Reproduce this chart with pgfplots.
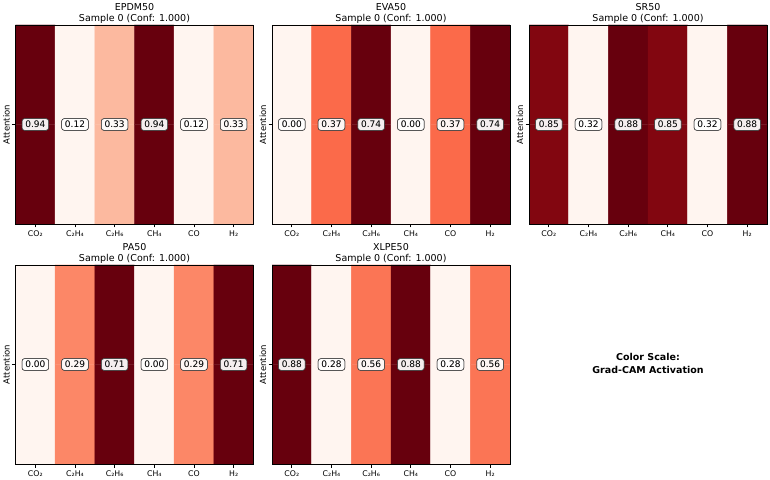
\documentclass[border=0pt]{standalone}
\usepackage{pgfplots}
\pgfplotsset{compat=1.18}
\usepackage{pgfplotstable}
\usepackage{fontspec}
\setmainfont{DejaVu Sans}

\pgfplotstableread{
x y c
0 0 0.94
1 0 0.12
2 0 0.33
3 0 0.94
4 0 0.12
5 0 0.33
0 1 0.94
1 1 0.12
2 1 0.33
3 1 0.94
4 1 0.12
5 1 0.33
}\epdm
\pgfplotstableread{
x y c
0 0 0.00
1 0 0.37
2 0 0.74
3 0 0.00
4 0 0.37
5 0 0.74
0 1 0.00
1 1 0.37
2 1 0.74
3 1 0.00
4 1 0.37
5 1 0.74
}\eva
\pgfplotstableread{
x y c
0 0 0.85
1 0 0.32
2 0 0.88
3 0 0.85
4 0 0.32
5 0 0.88
0 1 0.85
1 1 0.32
2 1 0.88
3 1 0.85
4 1 0.32
5 1 0.88
}\sr
\pgfplotstableread{
x y c
0 0 0.00
1 0 0.29
2 0 0.71
3 0 0.00
4 0 0.29
5 0 0.71
0 1 0.00
1 1 0.29
2 1 0.71
3 1 0.00
4 1 0.29
5 1 0.71
}\pa
\pgfplotstableread{
x y c
0 0 0.88
1 0 0.28
2 0 0.56
3 0 0.88
4 0 0.28
5 0 0.56
0 1 0.88
1 1 0.28
2 1 0.56
3 1 0.88
4 1 0.28
5 1 0.56
}\xlpe

\pgfplotsset{
  hm/.style={
    scale only axis,
    anchor=north west,
    width=238pt, height=199pt,
    xmin=-0.5, xmax=5.5, ymin=-0.5, ymax=1.5,
    enlargelimits=false,
    xtick={0,...,5},
    xticklabels={CO₂,C₂H₄,C₂H₆,CH₄,CO,H₂},
    ytick={0.5}, yticklabels={},
    xtick pos=bottom, ytick pos=left,
    tick align=outside,
    major tick length=3.5pt,
    tick style={black, line width=0.7pt},
    axis line style={line width=0.8pt},
    ticklabel style={font=\fontsize{7.8}{9}\selectfont},
    ylabel={Attention},
    every axis y label/.style={at={(axis description cs:0,0.5)}, xshift=-9pt, rotate=90, anchor=center, font=\fontsize{8.5}{10}\selectfont},
    title style={align=center, font=\fontsize{9.5}{11}\selectfont, yshift=-8pt},
    colormap={reds}{rgb255=(255,245,240) rgb255=(254,224,210) rgb255=(252,187,161) rgb255=(252,146,114) rgb255=(251,106,74) rgb255=(239,59,44) rgb255=(203,24,29) rgb255=(165,15,21) rgb255=(103,0,13)},
    axis on top,
  },
  cells/.style={matrix plot*, mesh/cols=6, mesh/rows=2, point meta=explicit},
  vals/.style={only marks, mark=none, point meta=explicit,
    nodes near coords={\pgfmathprintnumber[fixed,fixed zerofill,precision=2,assume math mode=true]{\pgfplotspointmeta}},
    every node near coord/.style={anchor=center, draw=black!80, line width=0.5pt, rounded corners=2.5pt, fill=white, fill opacity=0.75, text opacity=1, inner xsep=3.3pt, inner ysep=2.4pt, font=\fontsize{9}{10}\selectfont}},
}

\begin{document}
\begin{tikzpicture}
\path[use as bounding box] (0pt,0pt) rectangle (770pt,479pt);

\begin{axis}[hm, at={(15.5pt,454pt)}, title={EPDM50\\Sample 0 (Conf: 1.000)}]
\addplot[cells] table[x=x, y=y, meta=c] {\epdm};
\addplot[vals] table[x=x, y expr=0.5, meta=c] {\epdm};
\end{axis}

\begin{axis}[hm, at={(272pt,454pt)}, title={EVA50\\Sample 0 (Conf: 1.000)}]
\addplot[cells] table[x=x, y=y, meta=c] {\eva};
\addplot[vals] table[x=x, y expr=0.5, meta=c] {\eva};
\end{axis}

\begin{axis}[hm, at={(529pt,454pt)}, title={SR50\\Sample 0 (Conf: 1.000)}]
\addplot[cells] table[x=x, y=y, meta=c] {\sr};
\addplot[vals] table[x=x, y expr=0.5, meta=c] {\sr};
\end{axis}

\begin{axis}[hm, at={(15.5pt,214pt)}, title={PA50\\Sample 0 (Conf: 1.000)}]
\addplot[cells] table[x=x, y=y, meta=c] {\pa};
\addplot[vals] table[x=x, y expr=0.5, meta=c] {\pa};
\end{axis}

\begin{axis}[hm, at={(272pt,214pt)}, title={XLPE50\\Sample 0 (Conf: 1.000)}]
\addplot[cells] table[x=x, y=y, meta=c] {\xlpe};
\addplot[vals] table[x=x, y expr=0.5, meta=c] {\xlpe};
\end{axis}

\node[font=\bfseries\fontsize{9.5}{12.5}\selectfont, align=center] at (648pt,115.5pt) {Color Scale:\\Grad-CAM Activation};
\end{tikzpicture}
\end{document}
